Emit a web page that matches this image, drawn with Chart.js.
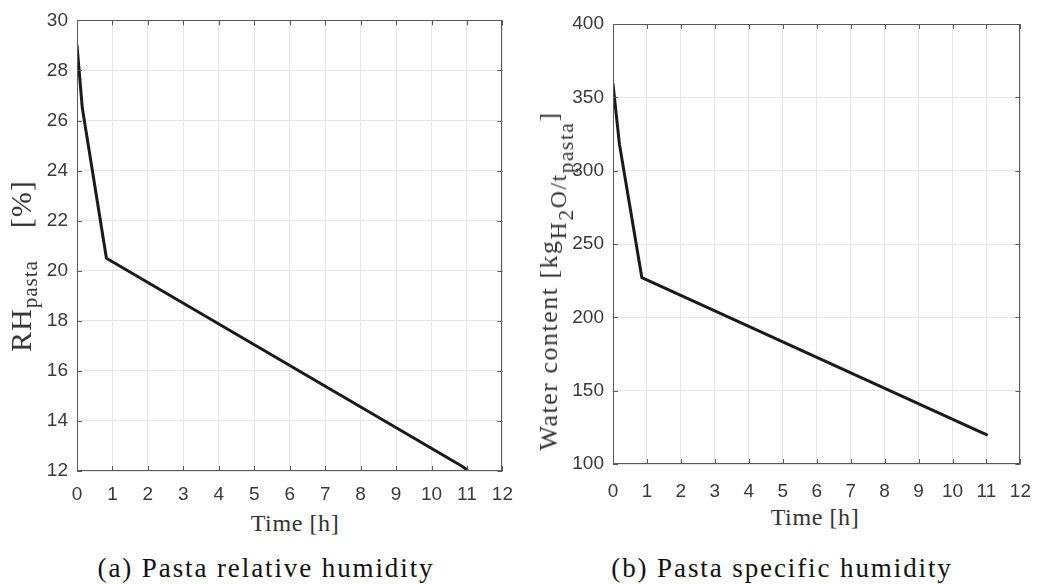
<!DOCTYPE html>
<html>
<head>
<meta charset="utf-8">
<script src="https://cdn.jsdelivr.net/npm/chart.js@4.4.1/dist/chart.umd.min.js"></script>
<style>
  html, body { margin: 0; padding: 0; background: #fff; }
  #wrap { position: relative; width: 1047px; height: 584px; overflow: hidden; }
  canvas { position: absolute; top: 0; }
  .lbl { position: absolute; white-space: nowrap; color: #333;
         font-family: "Liberation Serif", serif; font-size: 24px; letter-spacing: 0.6px; }
  .ytl { transform: translate(-50%, -50%) rotate(-90deg); font-size: 26px; letter-spacing: 1.5px; }
  .xtl { transform: translate(-50%, -50%); }
  .cap { position: absolute; white-space: nowrap; color: #111; transform: translate(-50%, -50%);
         font-family: "Liberation Serif", serif; font-size: 27px; letter-spacing: 1.9px; }
  .s1 { font-size: 92%; position: relative; top: 0.38em; vertical-align: baseline; }
  .s2 { font-size: 90%; position: relative; top: 0.32em; vertical-align: baseline; }
  .gap { display: inline-block; width: 32px; }
</style>
</head>
<body>
<div id="wrap">
  <canvas id="chart-rh" width="525" height="500" style="left:0"></canvas>
  <canvas id="chart-wc" width="522" height="500" style="left:525px"></canvas>

  <div class="lbl ytl" style="left:21px; top:266px; font-size:30px; letter-spacing:1px">RH<span class="s1" style="font-size:70%; top:0.3em">pasta</span><span class="gap"></span>[%]</div>
  <div class="lbl xtl" style="left:295px; top:523px">Time [h]</div>
  <div class="cap" style="left:266px; top:568px">(a) Pasta relative humidity</div>

  <div class="lbl ytl" style="left:549px; top:281px">Water content [kg<span class="s1">H<span class="s2">2</span>O/t<span class="s2">pasta</span></span>]</div>
  <div class="lbl xtl" style="left:815px; top:517px">Time [h]</div>
  <div class="cap" style="left:782px; top:568px">(b) Pasta specific humidity</div>
</div>
<script>
// valores
const timeRH = [0, 0.15, 0.83, 10.85, 11];
const rhPasta = [29, 26.5, 20.5, 12.2, 12.05];
const timeWC = [0, 0.19, 0.85, 10.8, 11];
const waterContent = [359, 318, 227, 122, 120];

const xTicks = [0, 12, 1];     // min, max, passo
const rhTicks = [12, 30, 2];
const wcTicks = [100, 400, 50];

const C = { line: "#1a1a1a", grid: "#e6e6e6", axis: "#5a5a5a", text: "#3a3a3a" };

Chart.defaults.font.family = '"Liberation Sans", Arial, sans-serif';
Chart.defaults.font.size = 19;
Chart.defaults.color = C.text;

// caixa estilo MATLAB com ticks para dentro
const frame = {
  id: "frame",
  afterDraw(chart) {
    const { ctx, chartArea: a, scales: { x, y } } = chart;
    const tl = 5;
    ctx.save();
    ctx.strokeStyle = C.axis;
    ctx.lineWidth = 1;
    ctx.strokeRect(Math.round(a.left) + 0.5, Math.round(a.top) + 0.5,
      Math.round(a.right - a.left) - 1, Math.round(a.bottom - a.top) - 1);
    ctx.beginPath();
    x.ticks.forEach((t) => {
      const px = Math.round(x.getPixelForValue(t.value)) + 0.5;
      ctx.moveTo(px, a.bottom); ctx.lineTo(px, a.bottom - tl);
      ctx.moveTo(px, a.top); ctx.lineTo(px, a.top + tl);
    });
    y.ticks.forEach((t) => {
      const py = Math.round(y.getPixelForValue(t.value)) + 0.5;
      ctx.moveTo(a.left, py); ctx.lineTo(a.left + tl, py);
      ctx.moveTo(a.right, py); ctx.lineTo(a.right - tl, py);
    });
    ctx.stroke();
    ctx.restore();
  },
};

function mount(id, xs, ys, yt, pad, xh, yw, xpad) {
  new Chart(document.getElementById(id), {
    type: "line",
    data: {
      datasets: [{
        data: xs.map((v, i) => ({ x: v, y: ys[i] })),
        borderColor: C.line, borderWidth: 3, pointRadius: 0, tension: 0, fill: false,
        borderJoinStyle: "round", borderCapStyle: "round",
      }],
    },
    options: {
      responsive: false, animation: false, devicePixelRatio: 1,
      layout: { padding: pad },
      plugins: { legend: { display: false }, tooltip: { enabled: false } },
      scales: {
        x: {
          type: "linear", min: xTicks[0], max: xTicks[1],
          ticks: { stepSize: xTicks[2], padding: xpad, maxRotation: 0, autoSkip: false },
          grid: { color: C.grid, drawTicks: false }, border: { display: false },
          afterFit: (s) => { s.height = xh; },
        },
        y: {
          type: "linear", min: yt[0], max: yt[1],
          ticks: { stepSize: yt[2], padding: 9 },
          grid: { color: C.grid, drawTicks: false }, border: { display: false },
          afterFit: (s) => { s.width = yw; },
        },
      },
    },
    plugins: [frame],
  });
}

mount("chart-rh", timeRH, rhPasta, rhTicks, { left: 0, top: 20, right: 13, bottom: 0 }, 29, 77, 12);
mount("chart-wc", timeWC, waterContent, wcTicks, { left: 0, top: 24, right: 19, bottom: 0 }, 36, 88, 16);
</script>
</body>
</html>
